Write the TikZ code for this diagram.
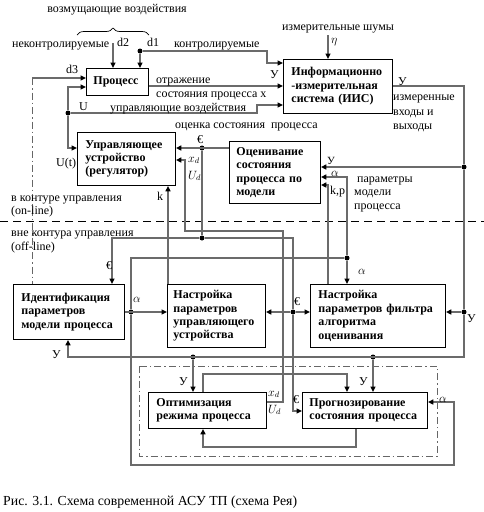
\documentclass[tikz,border=0pt]{standalone}
\usepackage{fontspec}
\setmainfont{Liberation Serif}
\usetikzlibrary{arrows.meta,decorations.pathreplacing}
\begin{document}
\begin{tikzpicture}[x=1pt,y=-1pt,
  box/.style={draw=black, line width=0.9pt, anchor=north west, align=left,
    font=\bfseries\fontsize{12}{13.4}\selectfont, inner ysep=0pt},
  conn/.style={draw=black!58, line width=1.5pt},
  arr/.style={conn, -{Triangle[length=5.5pt,width=5pt,color=black]}},
  dot/.style={circle, fill=black, inner sep=0pt, minimum size=5pt},
  lab/.style={anchor=base west, inner sep=0pt, font=\fontsize{12}{13.5}\selectfont},
  labc/.style={anchor=base, inner sep=0pt, font=\fontsize{12}{13.5}\selectfont},
  dashdot/.style={draw=black!60, line width=1pt, dash pattern=on 7pt off 3pt on 1.5pt off 3pt}
]
\useasboundingbox (0,0) rectangle (484,512);

% ---------- boxes ----------
\node[box, minimum width=62, minimum height=27, text width=48, inner xsep=7] (proc) at (86,68) {Процесс};
\node[box, minimum width=109, minimum height=54, text width=93, inner xsep=8] (iis) at (283,59) {Информационно\\-измерительная\\система (ИИС)};
\node[box, minimum width=98, minimum height=53, text width=82, inner xsep=8] (reg) at (77,132) {Управляющее\\устройство\\(регулятор)};
\node[box, minimum width=91, minimum height=62, text width=77, inner xsep=7] (est) at (229,141) {Оценивание\\состояния\\процесса по\\модели};
\node[box, minimum width=111, minimum height=55, text width=95, inner xsep=8] (ident) at (13,284) {Идентификация\\параметров\\модели процесса};
\node[box, minimum width=98, minimum height=63, text width=86, inner xsep=6] (tunereg) at (167,284) {Настройка\\параметров\\управляющего\\устройства};
\node[box, minimum width=135, minimum height=63, text width=119, inner xsep=8] (filt) at (310,284) {Настройка\\параметров фильтра\\алгоритма\\оценивания};
\node[box, minimum width=118, minimum height=36, text width=102, inner xsep=8] (optim) at (148,392) {Оптимизация\\режима процесса};
\node[box, minimum width=125, minimum height=36, text width=111, inner xsep=7] (prog) at (302,392) {Прогнозирование\\состояния процесса};

% ---------- frames and separators ----------
\draw[dashdot] (139,366) rectangle (437,456);
\draw[black, line width=0.9pt, dash pattern=on 8pt off 5pt] (0,221) -- (484,221);

% ---------- junction dots ----------
\node[dot] (jd1) at (140,51) {};
\node[dot] (jU) at (68,113) {};
\node[dot] (jY1) at (464,167) {};
\node[dot] (jY2) at (464,312) {};
\node[dot] (jY3) at (193,357) {};
\node[dot] (jY4) at (373,357) {};
\node[dot] (jE1) at (202,148) {};
\node[dot] (jE2) at (202,238) {};
\node[dot] (jE3) at (293,312) {};
\node[dot] (jA1) at (131,312) {};
\node[dot] (jA2) at (347,258) {};

% ---------- connectors ----------
% disturbances
\coordinate (d2s) at (113,43);
\draw[arr] (d2s) -- (d2s |- proc.north);
\draw[arr] (jd1) -- (jd1 |- proc.north);
\coordinate (b1) at (267,51); \coordinate (b2) at (267,63);
\draw[arr] (jd1) -- (b1) -- (b2) -- (b2 -| iis.west);
\coordinate (eta) at (328,35);
\draw[arr] (eta) -- (eta |- iis.north);
\coordinate (d3s) at (32,78);
\draw[arr] (d3s) -- (d3s -| proc.west);
\draw[dashdot] (d3s) -- (d3s |- ident.north);
% process output
\coordinate (po) at (0,86);
\draw[arr] (proc.east |- po) -- (po -| iis.west);
% control U
\coordinate (u1) at (68,87);
\draw[arr] (jU) -- (u1) -- (u1 -| proc.west);
\coordinate (u2) at (68,148);
\draw[arr] (jU) -- (u2) -- (u2 -| reg.west);
\coordinate (u3) at (257,113); \coordinate (u4) at (257,105);
\draw[arr] (jU) -- (u3) -- (u4) -- (u4 -| iis.west);
% measured outputs Y
\coordinate (y1) at (464,86);
\draw[conn] (iis.east |- po) -- (y1) -- (jY1);
\draw[arr] (jY1) -- (jY1 -| est.east);
\draw[conn] (jY1) -- (jY2);
\draw[arr] (jY2) -- (jY2 -| filt.east);
\coordinate (y2) at (464,357); \coordinate (y3) at (68,357);
\draw[arr] (jY2) -- (y2) -- (y3) -- (y3 |- ident.south);
\draw[arr] (jY3) -- (jY3 |- optim.north);
\draw[arr] (jY4) -- (jY4 |- prog.north);
% state estimate
\draw[arr] (est.west |- jE1) -- (jE1 -| reg.east);
\draw[conn] (jE1) -- (jE2);
\coordinate (e1) at (112,238); \coordinate (e2) at (293,238);
\draw[arr] (jE2) -- (e1) -- (e1 |- ident.north);
\draw[conn] (jE2) -- (e2) -- (jE3);
\draw[arr] (jE3) -- (jE3 -| tunereg.east);
\draw[arr] (jE3) -- (jE3 -| filt.west);
\coordinate (e3) at (293,411);
\draw[arr] (jE3) -- (e3) -- (e3 -| prog.west);
% x_d, U_d
\coordinate (x1) at (283,402); \coordinate (x2) at (283,231);
\coordinate (x3) at (185,231); \coordinate (x4) at (185,160);
\draw[arr] (optim.east |- x1) -- (x1) -- (x2) -- (x3) -- (x4) -- (x4 -| reg.east);
% k
\coordinate (k1) at (168,0);
\draw[arr] (k1 |- tunereg.north) -- (k1 |- reg.south);
% k,p
\coordinate (kp1) at (328,185);
\draw[arr] (kp1 |- filt.north) -- (kp1) -- (kp1 -| est.east);
% alpha
\draw[arr] (ident.east |- jA1) -- (jA1 -| tunereg.west);
\coordinate (a1) at (131,258);
\draw[conn] (jA1) -- (a1) -- (jA2);
\draw[arr] (jA2) -- (jA2 |- filt.north);
\coordinate (a2) at (347,177);
\draw[arr] (jA2) -- (a2) -- (a2 -| est.east);
\coordinate (a3) at (131,465); \coordinate (a4) at (454,465); \coordinate (a5) at (454,402);
\draw[arr] (jA1) -- (a3) -- (a4) -- (a5) -- (a5 -| prog.east);
% optimisation <-> forecasting
\coordinate (m1) at (203,374); \coordinate (m2) at (347,374);
\draw[arr] (m1 |- optim.north) -- (m1) -- (m2) -- (m2 |- prog.north);
\coordinate (n1) at (356,447); \coordinate (n2) at (203,447);
\draw[arr] (n1 |- prog.south) -- (n1) -- (n2) -- (n2 |- optim.south);

% ---------- brace ----------
\draw[black, line width=0.7pt, decorate, decoration={brace, amplitude=7pt}] (77,35) -- (149,35);

% ---------- labels ----------
\node[labc] (t1) at (117,12.5) {возмущающие воздействия};
\node[lab] (t2) at (12,47) {неконтролируемые};
\node[lab] (t3) at (117,46) {d2};
\node[lab] (t4) at (147,46) {d1};
\node[lab] (t5) at (174,47) {контролируемые};
\node[labc] (t6) at (338,30) {измерительные шумы};
\node[lab] (t7) at (331,43) {$\eta$};
\node[lab] (t8) at (66,73) {d3};
\node[lab] (t9) at (156,83) {отражение};
\node[lab] (t10) at (156,97) {состояния процесса x};
\node[lab] (t11) at (270,78) {У};
\node[lab] (t12) at (79,110) {U};
\node[lab] (t13) at (110,111) {управляющие воздействия};
\node[lab] (t14) at (398,85) {У};
\node[lab] (t15) at (393,100) {измеренные};
\node[lab] (t16) at (393,115) {входы и};
\node[lab] (t17) at (393,129) {выходы};
\node[lab] (t18) at (175,128) {оценка состояния\ \ процесса};
\node[lab] (t19) at (197,143) {€};
\node[lab] (t20) at (56,166) {U(t)};
\node[lab] (t21) at (188,162) {$x_d$};
\node[lab] (t22) at (188,179) {$U_d$};
\node[lab] (t23) at (157,200) {k};
\node[lab, font=\fontsize{11}{12}\selectfont] (t24) at (327,164) {У};
\node[lab] (t25) at (331,176) {$\alpha$};
\node[lab] (t26) at (330,194) {k,p};
\node[lab] (t27) at (354,182) {\ параметры};
\node[lab] (t28) at (354,195) {модели};
\node[lab] (t29) at (354,209) {процесса};
\node[lab] (t30) at (11,201) {в контуре управления};
\node[lab] (t31) at (11,214) {(on-line)};
\node[lab] (t32) at (11,236) {вне контура управления};
\node[lab] (t33) at (11,250) {(off-line)};
\node[lab] (t34) at (106,269) {€};
\node[lab] (t35) at (133,302) {$\alpha$};
\node[lab] (t36) at (52,358) {У};
\node[lab] (t37) at (294,305) {€};
\node[lab] (t38) at (358,274) {$\alpha$};
\node[lab] (t39) at (467,322) {У};
\node[lab] (t40) at (179,385) {У};
\node[lab] (t41) at (359,385) {У};
\node[lab] (t42) at (268,396) {$x_d$};
\node[lab] (t43) at (268,413) {$U_d$};
\node[lab] (t44) at (293,403) {€};
\node[lab] (t45) at (439,402) {$\alpha$};
\node[lab, font=\fontsize{13.8}{15}\selectfont] (cap) at (3,505) {Рис. 3.1. Схема современной АСУ ТП (схема Рея)};
\end{tikzpicture}
\end{document}
